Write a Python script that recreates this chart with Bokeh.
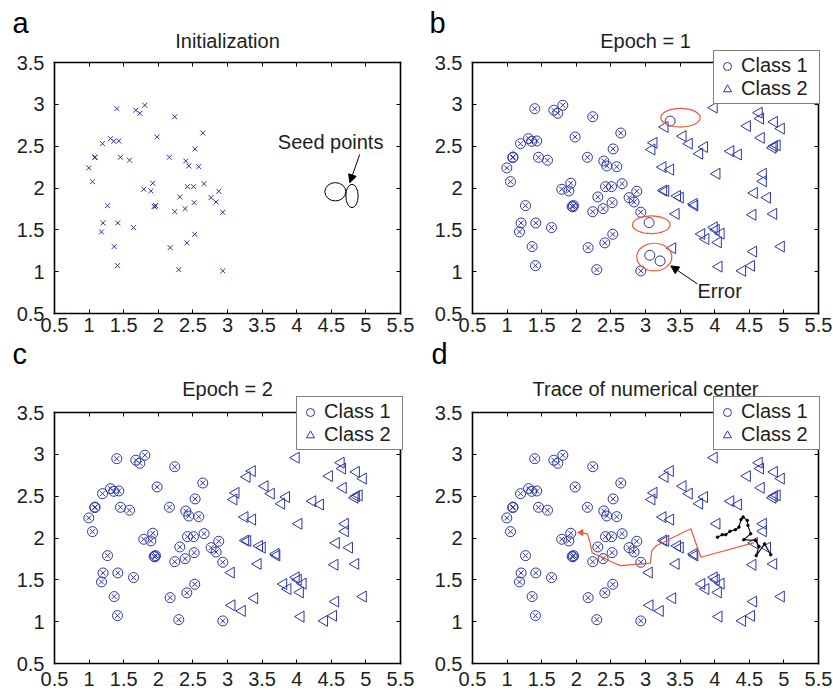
from bokeh.plotting import figure
from bokeh.models import (LinearAxis, FixedTicker, CustomJSTickFormatter, Label, Arrow,
                          NormalHead, Legend, LegendItem, Range1d)
from bokeh.layouts import column, row
from bokeh.embed import file_html
from bokeh.resources import INLINE
import math

# ---------------- data ----------------
class1_x = [1.40, 1.675, 1.733, 1.805, 2.238, 1.983, 2.643, 1.194, 1.309, 1.357, 1.429, 1.082,
            1.454, 1.584, 2.161, 2.532, 2.397, 2.441, 2.585, 0.996, 1.049, 1.92, 1.79, 1.892,
            2.422, 2.509, 2.662, 2.311, 2.874, 2.763, 2.835, 2.932, 1.266, 1.94, 1.96, 1.95,
            2.238, 2.387, 2.518, 1.202, 1.415, 1.179, 1.642, 2.527, 2.412, 1.362, 2.171, 1.41,
            2.296, 2.932, 1.085]
class1_y = [2.948, 2.93, 2.893, 2.989, 2.852, 2.61, 2.657, 2.53, 2.59, 2.558, 2.562, 2.363,
            2.367, 2.332, 2.367, 2.467, 2.323, 2.263, 2.255, 2.24, 2.076, 2.057, 1.985, 1.965,
            2.016, 2.016, 2.052, 1.893, 1.961, 1.885, 1.833, 1.71, 1.789, 1.78, 1.79, 1.775,
            1.717, 1.753, 1.825, 1.582, 1.582, 1.475, 1.527, 1.447, 1.344, 1.30, 1.287, 1.072,
            1.024, 1.009, 2.37]

class2_x = [3.99, 4.64, 4.66, 4.47, 4.86, 4.96, 3.28, 3.54, 3.63, 3.85, 3.78, 4.67, 4.86,
            4.84, 4.90, 3.12, 3.09, 4.23, 4.34, 3.25, 3.36, 4.03, 4.70, 4.70, 3.26, 3.29,
            3.46, 3.50, 4.57, 4.76, 3.70, 3.71, 3.44, 4.55, 4.85, 3.99, 4.02, 4.09, 3.81,
            3.87, 4.05, 3.39, 4.56, 4.96, 4.06, 4.40, 4.53]
class2_y = [2.96, 2.90, 2.83, 2.74, 2.79, 2.71, 2.73, 2.62, 2.53, 2.49, 2.41, 2.60, 2.50,
            2.48, 2.51, 2.54, 2.46, 2.44, 2.40, 2.25, 2.22, 2.17, 2.17, 2.08, 1.97, 1.965,
            1.905, 1.885, 1.94, 1.885, 1.81, 1.79, 1.69, 1.68, 1.69, 1.53, 1.50, 1.455, 1.45,
            1.39, 1.35, 1.28, 1.24, 1.30, 1.06, 1.01, 1.07]

# class-2 points wrongly assigned to class 1 after epoch 1
err_x = [3.356, 3.052, 3.062, 3.211]
err_y = [2.80, 1.586, 1.196, 1.128]

# seed points (panel a)
seed_x = [4.558, 4.799]
seed_y = [1.955, 1.905]
seed_w = [0.303, 0.178]
seed_h = [0.219, 0.279]

# error rings (panel b)
ring_x = [3.506, 3.084, 3.127]
ring_y = [2.84, 1.561, 1.174]
ring_w = [0.568, 0.543, 0.506]
ring_h = [0.223, 0.211, 0.331]

# traces of numerical centres (panel d)
red_x = [4.57, 3.80, 3.655, 3.16, 3.09, 3.07, 2.64, 2.52, 2.40, 2.23, 2.20, 2.16, 2.07]
red_y = [1.945, 1.77, 2.11, 1.91, 1.85, 1.70, 1.67, 1.71, 1.76, 1.82, 1.94, 2.05, 2.065]
black_x = [4.81, 4.72, 4.60, 4.64, 4.59, 4.42, 4.52, 4.48, 4.47, 4.41, 4.38, 4.35, 4.30,
           4.22, 4.16, 4.11, 4.04]
black_y = [1.80, 1.93, 1.79, 1.90, 1.97, 1.98, 2.05, 2.15, 2.21, 2.25, 2.22, 2.13, 2.10,
           2.08, 2.04, 2.04, 2.01]

x_ticks = [0.5, 1, 1.5, 2, 2.5, 3, 3.5, 4, 4.5, 5, 5.5]
y_ticks = [0.5, 1, 1.5, 2, 2.5, 3, 3.5]

titles = ["Initialization", "Epoch = 1", "Epoch = 2", "Trace of numerical center"]
letters = ["a", "b", "c", "d"]
legend_labels = ["Class 1", "Class 2"]

FONT = "Liberation Sans"
FS = "20px"
BLUE = "#2b36a8"
RED = "#ef5a36"
TXT = "#1e1e1e"
BOX_W, BOX_H = 346, 251          # pixel size of each axes box
X0, X1 = x_ticks[0], x_ticks[-1]
Y0, Y1 = y_ticks[0], y_ticks[-1]
TRI = math.pi / 2


def make_fig(w, h, box_left, box_top, title, letter, letter_x, letter_y, title_y, xstand):
    ux = BOX_W / (X1 - X0)
    uy = BOX_H / (Y1 - Y0)
    xs = X0 - box_left / ux
    ye = Y1 + box_top / uy
    p = figure(width=w, height=h, x_range=Range1d(xs, xs + w / ux),
               y_range=Range1d(ye - h / uy, ye), output_backend="svg",
               toolbar_location=None, title=None, x_axis_location=None,
               y_axis_location=None, min_border=0, min_border_left=0,
               min_border_right=0, min_border_top=0, min_border_bottom=0)
    p.grid.visible = False
    p.outline_line_color = None
    p.border_fill_color = "white"
    p.background_fill_color = "white"

    fmt = CustomJSTickFormatter(code="return tick.toString();")
    blank = CustomJSTickFormatter(code="return '';")
    bottom = LinearAxis(ticker=FixedTicker(ticks=x_ticks), formatter=fmt,
                        fixed_location=Y0, bounds=(X0, X1))
    left = LinearAxis(ticker=FixedTicker(ticks=y_ticks), formatter=fmt,
                      fixed_location=X0, bounds=(Y0, Y1))
    top = LinearAxis(ticker=FixedTicker(ticks=x_ticks), formatter=blank,
                     fixed_location=Y1, bounds=(X0, X1))
    right = LinearAxis(ticker=FixedTicker(ticks=y_ticks), formatter=blank,
                       fixed_location=X1, bounds=(Y0, Y1))
    p.add_layout(bottom, "below")
    p.add_layout(left, "left")
    p.add_layout(top, "above")
    p.add_layout(right, "right")
    for ax in (bottom, left, top, right):
        ax.axis_line_color = "black"
        ax.axis_line_width = 1.6
        ax.axis_line_cap = "square"
        ax.major_tick_in = 4
        ax.major_tick_out = 0
        ax.major_tick_line_color = "black"
        ax.major_tick_line_width = 1
        ax.minor_tick_line_color = None
        ax.major_label_text_font = FONT
        ax.major_label_text_font_size = FS
        ax.major_label_text_color = TXT
    bottom.major_label_standoff = xstand
    left.major_label_standoff = 10
    for ax in (top, right):
        ax.major_label_standoff = 0
        ax.major_label_text_font_size = "1px"

    p.add_layout(Label(x=box_left + BOX_W / 2, y=title_y, x_units="screen", y_units="screen",
                       text=title, text_font=FONT, text_font_size=FS, text_color=TXT,
                       text_align="center", text_baseline="alphabetic"))
    p.add_layout(Label(x=letter_x, y=letter_y, x_units="screen", y_units="screen",
                       text=letter, text_font=FONT, text_font_size="29px",
                       text_color="black", text_baseline="alphabetic"))
    return p


def add_legend(p, rc, rt, right_x, bottom_y):
    pad, gw, st, lw = 3, 20, 4, 75
    width = 2 * pad + gw + st + lw
    leg = Legend(items=[LegendItem(label=legend_labels[0], renderers=[rc]),
                        LegendItem(label=legend_labels[1], renderers=[rt])],
                 location=(right_x - width, bottom_y), margin=0, padding=pad, spacing=0,
                 glyph_width=gw, glyph_height=22, label_height=22, label_width=lw,
                 label_standoff=st, label_text_font=FONT, label_text_font_size=FS,
                 label_text_color=TXT, border_line_color="black", border_line_width=1.2,
                 background_fill_color="white", background_fill_alpha=1.0)
    p.add_layout(leg)


# ---------------- panel a ----------------
pa = make_fig(420, 336, 54, 62, titles[0], letters[0], 12, 314, 296, 4)
pa.scatter(class1_x, class1_y, marker="x", size=7, line_color=BLUE, line_width=1)
pa.ellipse(seed_x, seed_y, width=seed_w, height=seed_h, fill_color=None,
           line_color="black", line_width=1)
pa.add_layout(Label(x=4.49, y=2.55, text="Seed points", text_font=FONT,
                    text_font_size=FS, text_color=TXT, text_align="center",
                    text_baseline="alphabetic"))
pa.add_layout(Arrow(x_start=4.91, y_start=2.40, x_end=4.767, y_end=2.064,
                    line_color="black", line_width=1,
                    end=NormalHead(size=8, fill_color="black", line_color="black")))

# ---------------- panel b ----------------
pb = make_fig(413, 336, 52, 62, titles[1], letters[1], 9, 314, 296, 4)
pb.scatter(class1_x, class1_y, marker="x", size=7, line_color=BLUE, line_width=1)
rc = pb.scatter(class1_x + err_x, class1_y + err_y, marker="circle", size=10,
                fill_color=None, line_color=BLUE, line_width=1)
rt = pb.scatter(class2_x, class2_y, marker="triangle", angle=TRI, size=11,
                fill_color=None, line_color=BLUE, line_width=1)
pb.ellipse(ring_x, ring_y, width=ring_w, height=ring_h, fill_color=None,
           line_color=RED, line_width=1.2)
pb.add_layout(Label(x=3.75, y=0.77, text="Error", text_font=FONT, text_font_size=FS,
                    text_color=TXT, text_align="left", text_baseline="middle"))
pb.add_layout(Arrow(x_start=3.75, y_start=0.854, x_end=3.366, y_end=1.069,
                    line_color="black", line_width=1,
                    end=NormalHead(size=8, fill_color="black", line_color="black")))
add_legend(pb, rc, rt, 398, 232)

# ---------------- panel c ----------------
pc = make_fig(420, 361, 54, 76, titles[2], letters[2], 12, 344, 309, 8)
pc.scatter(class1_x, class1_y, marker="x", size=7, line_color=BLUE, line_width=1)
rc = pc.scatter(class1_x, class1_y, marker="circle", size=10,
                fill_color=None, line_color=BLUE, line_width=1)
rt = pc.scatter(class2_x + err_x, class2_y + err_y, marker="triangle", angle=TRI, size=11,
                fill_color=None, line_color=BLUE, line_width=1)
add_legend(pc, rc, rt, 401, 247)

# ---------------- panel d ----------------
pd_ = make_fig(413, 361, 52, 76, titles[3], letters[3], 11, 344, 309, 8)
pd_.scatter(class1_x, class1_y, marker="x", size=7, line_color=BLUE, line_width=1)
rc = pd_.scatter(class1_x, class1_y, marker="circle", size=10,
                 fill_color=None, line_color=BLUE, line_width=1)
rt = pd_.scatter(class2_x + err_x, class2_y + err_y, marker="triangle", angle=TRI, size=11,
                 fill_color=None, line_color=BLUE, line_width=1)
pd_.line(red_x, red_y, line_color=RED, line_width=1.2)
pd_.scatter(red_x[-1:], red_y[-1:], marker="triangle", angle=TRI, size=6,
            fill_color=RED, line_color=RED)
pd_.line(black_x, black_y, line_color="black", line_width=1.1)
pd_.scatter(black_x, black_y, marker="circle", size=2.5, fill_color="black",
            line_color="black")
add_legend(pd_, rc, rt, 398, 247)

layout = column(row(pa, pb), row(pc, pd_))
open("out.html", "w").write(file_html(layout, INLINE))
